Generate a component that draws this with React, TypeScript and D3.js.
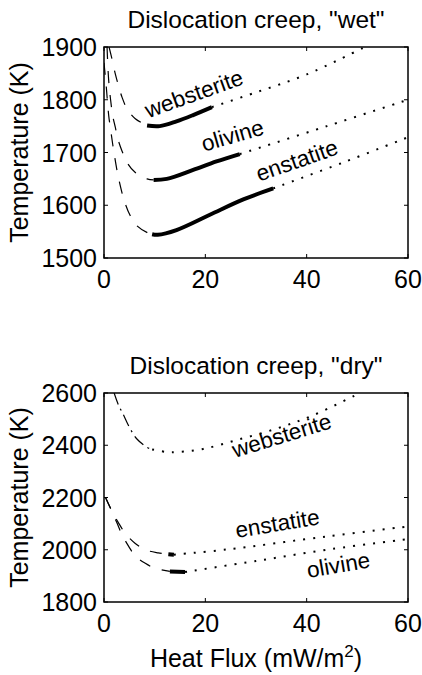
import React from "react";
import * as d3 from "d3";

type Pt = [number, number];

// heat flux axis
const xTicks = [0, 20, 40, 60];

// "wet" panel
const wetYTicks = [1500, 1600, 1700, 1800, 1900];
const wetWebsteriteDashed: Pt[] = [[1.0, 1900], [1.58, 1877], [2.23, 1849], [2.76, 1830], [3.55, 1805], [4.54, 1783], [6.18, 1764], [8.5, 1751]];
const wetWebsteriteSolid: Pt[] = [[8.5, 1751], [11, 1750], [14.3, 1759], [17.6, 1771], [21.3, 1786]];
const wetWebsteriteDotted: Pt[] = [[21.3, 1786], [30, 1814], [40, 1848], [51.5, 1900]];
const wetOlivineDashed: Pt[] = [[0.6, 1900], [0.9, 1840], [1.3, 1800], [1.72, 1770], [2.23, 1748], [2.76, 1725], [3.55, 1703], [4.74, 1678], [6.18, 1662], [8.49, 1650], [9.8, 1648]];
const wetOlivineSolid: Pt[] = [[9.8, 1648], [12.4, 1650], [17.6, 1667], [22.2, 1683], [26.8, 1697]];
const wetOlivineDotted: Pt[] = [[26.8, 1697], [44, 1750], [60, 1800]];
const wetEnstatiteDashed: Pt[] = [[0, 1870], [0.4, 1830], [0.93, 1770], [1.24, 1748], [1.97, 1700], [2.9, 1650], [4.09, 1606], [5.19, 1580], [6.51, 1561], [8.8, 1547], [9.5, 1545]];
const wetEnstatiteSolid: Pt[] = [[9.5, 1545], [10.6, 1544], [14.3, 1553], [20.9, 1582], [27.5, 1611], [33.4, 1632]];
const wetEnstatiteDotted: Pt[] = [[33.4, 1632], [47.2, 1681], [60, 1729]];

// "dry" panel
const dryYTicks = [1800, 2000, 2200, 2400, 2600];
const dryWebsteriteDashDot: Pt[] = [[2.0, 2600], [2.9, 2552], [3.7, 2522], [5.2, 2462], [6.5, 2424], [8.5, 2392], [9.5, 2384]];
const dryWebsteriteDotted: Pt[] = [[9.5, 2384], [12.4, 2374], [14.5, 2374], [19.6, 2386], [26.2, 2420], [34.1, 2464], [41.3, 2515], [50.5, 2600]];
const dryEnstatiteDashed: Pt[] = [[0.3, 2200], [1.58, 2147], [2.8, 2105], [4.3, 2060], [6.18, 2024], [8.15, 2000], [10.7, 1988], [12.7, 1983]];
const dryEnstatiteSolid: Pt[] = [[12.7, 1983], [13.8, 1981]];
const dryEnstatiteDotted: Pt[] = [[13.8, 1981], [24.2, 2001], [44, 2051], [60, 2089]];
const dryOlivineDashed: Pt[] = [[0.3, 2200], [1.6, 2146], [2.57, 2102], [3.55, 2058], [4.87, 2013], [6.18, 1976], [8.15, 1948], [10.1, 1929], [13, 1917]];
const dryOlivineSolid: Pt[] = [[13, 1917], [16, 1915]];
const dryOlivineDotted: Pt[] = [[16, 1915], [30, 1957], [45, 2003], [60, 2041]];

const wetLabelNames = ["websterite", "olivine", "enstatite"];
const wetLabelAt: Pt[] = [[8.74, 1765], [19.74, 1701.5], [30.65, 1644.6]];
const wetLabelAngle = [-19.6, -16.1, -19.2];
const dryLabelNames = ["websterite", "enstatite", "olivine"];
const dryLabelAt: Pt[] = [[25.85, 2351], [26.19, 2045], [40.3, 1892]];
const dryLabelAngle = [-17.2, -9.4, -9.7];

const FONT = "'Liberation Sans', Arial, Helvetica, sans-serif";
const LEFT = 104;
const RIGHT = 408;

type Seg = { pts: Pt[]; style: "dashed" | "solid" | "dotted" | "dashdot" };

const styles = {
  dashed: { width: 1.2, dash: "12,12" },
  solid: { width: 4, dash: undefined },
  dotted: { width: 2, dash: "2,8" },
  dashdot: { width: 1.2, dash: "12,5,2,5" },
};

interface PanelProps {
  id: string;
  title: string;
  top: number;
  bottom: number;
  yTicks: number[];
  segs: Seg[];
  labels: string[];
  labelAt: Pt[];
  labelAngle: number[];
}

function Panel({ id, title, top, bottom, yTicks, segs, labels, labelAt, labelAngle }: PanelProps) {
  const x = d3.scaleLinear().domain([0, 60]).range([LEFT, RIGHT]);
  const y = d3.scaleLinear().domain([yTicks[0], yTicks[yTicks.length - 1]]).range([bottom, top]);
  const line = d3
    .line<Pt>()
    .x((d) => x(d[0]))
    .y((d) => y(d[1]))
    .curve(d3.curveCatmullRom.alpha(0.5));
  const tl = 4;
  return (
    <g>
      <defs>
        <clipPath id={id}>
          <rect x={LEFT} y={top} width={RIGHT - LEFT} height={bottom - top} />
        </clipPath>
      </defs>
      <text x={(LEFT + RIGHT) / 2} y={top - 19} textAnchor="middle" fontSize={24.5}>
        {title}
      </text>
      <g clipPath={`url(#${id})`}>
        {segs.map((s, i) => (
          <path
            key={i}
            d={line(s.pts) || ""}
            fill="none"
            stroke="#000"
            strokeWidth={styles[s.style].width}
            strokeDasharray={styles[s.style].dash}
          />
        ))}
      </g>
      {labels.map((t, i) => {
        const px = x(labelAt[i][0]);
        const py = y(labelAt[i][1]);
        return (
          <text key={t} x={px} y={py} fontSize={22.5} transform={`rotate(${labelAngle[i]},${px},${py})`}>
            {t}
          </text>
        );
      })}
      <rect x={LEFT} y={top} width={RIGHT - LEFT} height={bottom - top} fill="none" stroke="#000" strokeWidth={1.5} />
      {xTicks.map((t) => (
        <g key={"x" + t}>
          <line x1={x(t)} x2={x(t)} y1={bottom} y2={bottom - tl} stroke="#000" />
          <line x1={x(t)} x2={x(t)} y1={top} y2={top + tl} stroke="#000" />
          <text x={x(t)} y={bottom + 30} textAnchor="middle" fontSize={25}>
            {t}
          </text>
        </g>
      ))}
      {yTicks.map((t) => (
        <g key={"y" + t}>
          <line x1={LEFT} x2={LEFT + tl} y1={y(t)} y2={y(t)} stroke="#000" />
          <line x1={RIGHT} x2={RIGHT - tl} y1={y(t)} y2={y(t)} stroke="#000" />
          <text x={LEFT - 7} y={y(t)} dy="0.36em" textAnchor="end" fontSize={25}>
            {t}
          </text>
        </g>
      ))}
      <text
        transform={`translate(28,${(top + bottom) / 2}) rotate(-90)`}
        textAnchor="middle"
        fontSize={25}
      >
        Temperature (K)
      </text>
    </g>
  );
}

export default function App() {
  const wetSegs: Seg[] = [
    { pts: wetWebsteriteDashed, style: "dashed" },
    { pts: wetWebsteriteSolid, style: "solid" },
    { pts: wetWebsteriteDotted, style: "dotted" },
    { pts: wetOlivineDashed, style: "dashed" },
    { pts: wetOlivineSolid, style: "solid" },
    { pts: wetOlivineDotted, style: "dotted" },
    { pts: wetEnstatiteDashed, style: "dashed" },
    { pts: wetEnstatiteSolid, style: "solid" },
    { pts: wetEnstatiteDotted, style: "dotted" },
  ];
  const drySegs: Seg[] = [
    { pts: dryWebsteriteDashDot, style: "dashdot" },
    { pts: dryWebsteriteDotted, style: "dotted" },
    { pts: dryEnstatiteDashed, style: "dashed" },
    { pts: dryEnstatiteSolid, style: "solid" },
    { pts: dryEnstatiteDotted, style: "dotted" },
    { pts: dryOlivineDashed, style: "dashed" },
    { pts: dryOlivineSolid, style: "solid" },
    { pts: dryOlivineDotted, style: "dotted" },
  ];
  return (
    <svg
      width={422}
      height={675}
      style={{ position: "absolute", left: 0, top: 0, background: "#fff" }}
      fontFamily={FONT}
    >
      <rect width={422} height={675} fill="#fff" />
      <Panel
        id="wet"
        title={'Dislocation creep, "wet"'}
        top={47}
        bottom={258}
        yTicks={wetYTicks}
        segs={wetSegs}
        labels={wetLabelNames}
        labelAt={wetLabelAt}
        labelAngle={wetLabelAngle}
      />
      <Panel
        id="dry"
        title={'Dislocation creep, "dry"'}
        top={393}
        bottom={602}
        yTicks={dryYTicks}
        segs={drySegs}
        labels={dryLabelNames}
        labelAt={dryLabelAt}
        labelAngle={dryLabelAngle}
      />
      <text x={(LEFT + RIGHT) / 2} y={667} textAnchor="middle" fontSize={25}>
        Heat Flux (mW/m
        <tspan fontSize={17} dy={-10}>2</tspan>
        <tspan dy={10}>)</tspan>
      </text>
    </svg>
  );
}
